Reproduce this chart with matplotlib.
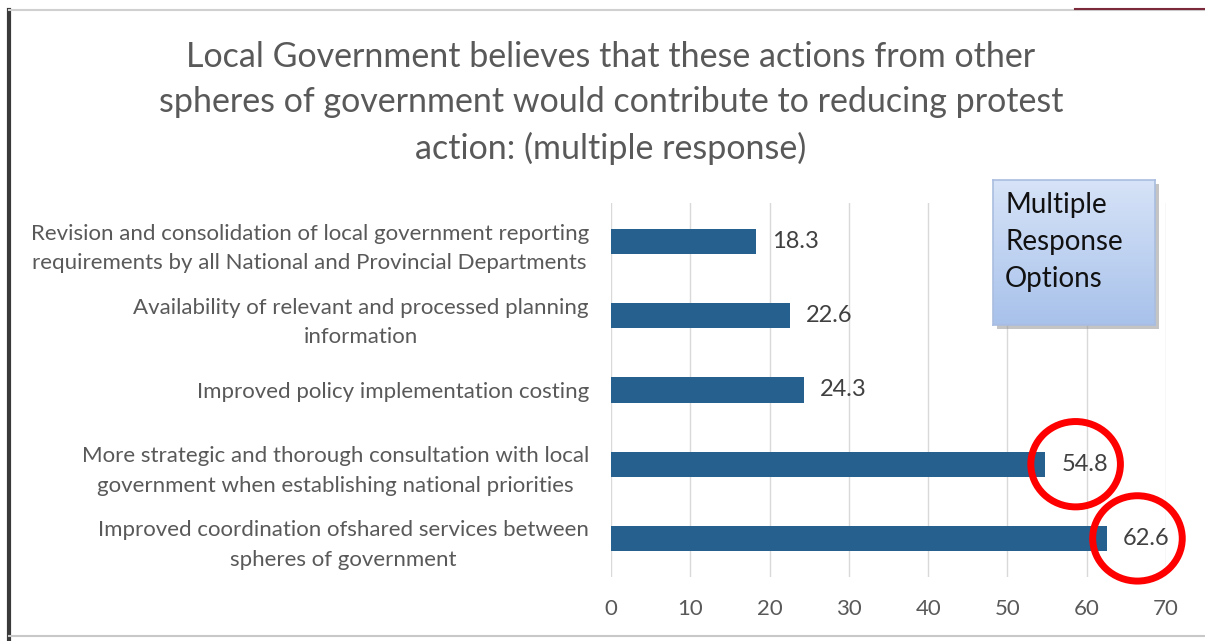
import numpy as np
import matplotlib.pyplot as plt
from matplotlib.patches import Ellipse, Rectangle
from matplotlib.lines import Line2D

plt.rcParams['font.family'] = ['Lato', 'DejaVu Sans']

title = ("Local Government believes that these actions from other\n"
         "spheres of government would contribute to reducing protest\n"
         "action: (multiple response)")

categories = [
    "Revision and consolidation of local government reporting\n"
    "requirements by all National and Provincial Departments",
    "Availability of relevant and processed planning\ninformation",
    "Improved policy implementation costing",
    "More strategic and thorough consultation with local\n"
    "government when establishing national priorities",
    "Improved coordination ofshared services between\nspheres of government",
]
values = [18.3, 22.6, 24.3, 54.8, 62.6]
x_ticks = [0, 10, 20, 30, 40, 50, 60, 70]
highlighted = [3, 4]

W, H = 1205, 641
fig = plt.figure(figsize=(W / 100, H / 100), dpi=100)
fig.patch.set_facecolor("white")

# slide frame remnants
fig.add_artist(Line2D([9 / W, 9 / W], [0, 1 - 10 / H], color="#3a3a3a", lw=3))
fig.add_artist(Line2D([9 / W, 1], [1 - 10 / H, 1 - 10 / H], color="#d0d0d0", lw=1.5))
fig.add_artist(Line2D([1075 / W, 1], [1 - 9 / H, 1 - 9 / H], color="#7a2a3a", lw=1.5))
fig.add_artist(Line2D([9 / W, 1], [5 / H, 5 / H], color="#c8c8c8", lw=1.5))

ax = fig.add_axes([611 / W, (H - 577) / H, (1166 - 611) / W, (577 - 203) / H])
ypos = list(range(len(values)))
ax.barh(ypos, values, height=0.34, color="#26608f", zorder=3)
ax.set_xlim(0, 70)
ax.set_ylim(4.52, -0.52)
ax.set_xticks(x_ticks)
ax.set_xticklabels([str(t) for t in x_ticks])
ax.set_yticks(ypos)
ax.set_yticklabels(categories, ha="right", multialignment="center",
                   fontsize=16, color="#595959", linespacing=1.6)
ax.tick_params(axis="y", length=0, pad=16)
ax.tick_params(axis="x", length=0, pad=16, labelsize=16, labelcolor="#595959")
for s in ax.spines.values():
    s.set_visible(False)
ax.grid(axis="x", color="#d9d9d9", lw=1, zorder=0)

for y, v in zip(ypos, values):
    ax.text(v + 2.0, y, f"{v}", va="center", ha="left", fontsize=17, color="#404040")

# red circles around the two leading options
for i in highlighted:
    cx = values[i] + 3.8
    ax.add_patch(Ellipse((cx, i), 11.3, 1.15, fill=False, ec="#ff0000", lw=5,
                         clip_on=False, zorder=5))

fig.text(0.507, 1 - 103 / H, title, ha="center", va="center", fontsize=24.5,
         color="#595959", linespacing=1.5)

# callout box with a soft vertical gradient and drop shadow
bx0, by0, bx1, by1 = 993, 180, 1155, 325
fig.add_artist(Rectangle((bx0 / W + 4 / W, (H - by1 - 4) / H), (bx1 - bx0) / W,
                         (by1 - by0) / H, transform=fig.transFigure,
                         fc="#8a8a8a", ec="none", alpha=0.5, zorder=9))
bax = fig.add_axes([bx0 / W, (H - by1) / H, (bx1 - bx0) / W, (by1 - by0) / H], zorder=10)
top = np.array([0.84, 0.89, 0.97])
bot = np.array([0.66, 0.76, 0.92])
grad = np.linspace(0, 1, 64)[:, None, None] * (bot - top) + top
bax.imshow(grad, aspect="auto", extent=(0, 1, 0, 1))
bax.set_xlim(0, 1)
bax.set_ylim(0, 1)
bax.set_xticks([])
bax.set_yticks([])
for s in bax.spines.values():
    s.set_color("#a9bde0")
    s.set_linewidth(1.2)
bax.text(12 / (bx1 - bx0), 1 - (242 - by0) / (by1 - by0), "Multiple\nResponse\nOptions",
         ha="left", va="center", fontsize=20, color="#111111", linespacing=1.5,
         transform=bax.transAxes)

fig.savefig("out.png", dpi=100)
